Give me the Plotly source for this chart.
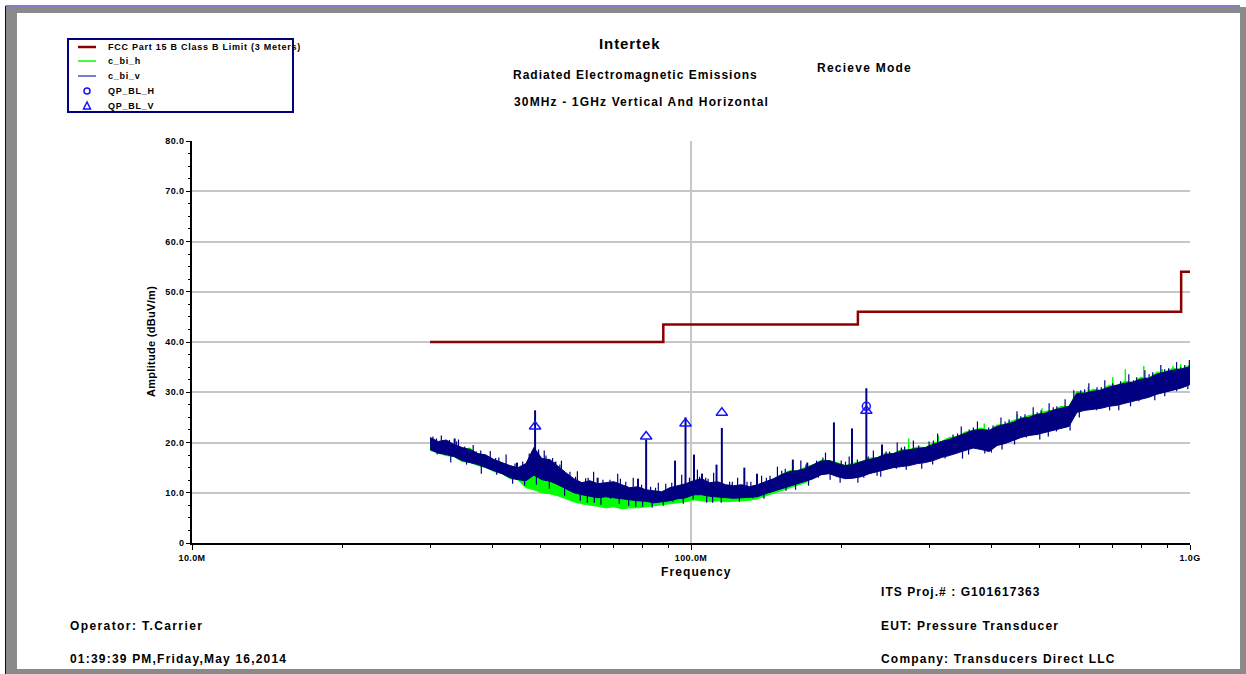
import plotly.graph_objects as go

# ---------------- measurement data ----------------
# sweep bins (MHz)
FREQ_MHZ = [30.0, 31.13, 32.30, 33.51, 34.77, 36.07, 37.43, 38.83, 40.29, 41.80,
            43.37, 45.00, 46.69, 48.44, 50.26, 52.15, 54.11, 56.14, 58.24, 60.43,
            62.70, 65.05, 67.49, 70.03, 72.66, 75.38, 78.21, 81.15, 84.20, 87.36,
            90.64, 94.04, 97.57, 101.2, 105.0, 109.0, 113.1, 117.3, 121.7, 126.3,
            131.0, 135.9, 141.0, 146.3, 151.8, 157.5, 163.4, 169.6, 175.9, 182.5,
            189.4, 196.5, 203.9, 211.5, 219.5, 227.7, 236.3, 245.1, 254.3, 263.9,
            273.8, 284.1, 294.7, 305.8, 317.3, 329.2, 341.5, 354.3, 367.6, 381.4,
            395.8, 410.6, 426.0, 442.0, 458.6, 475.8, 493.7, 512.2, 531.4, 551.4,
            572.1, 593.5, 615.8, 638.9, 662.9, 687.8, 713.6, 740.4, 768.2, 797.0,
            826.9, 858.0, 890.2, 923.6, 958.3, 994.2, 1000.0]

# vertical antenna (c_bi_v): max / min per bin, dBuV/m
V_HI = [21.0, 20.2, 20.5, 19.6, 19.0, 18.6, 17.8, 17.5, 16.6, 16.0,
        15.4, 15.0, 15.8, 19.0, 16.8, 16.6, 15.2, 14.0, 12.8, 12.0,
        12.4, 11.8, 12.0, 12.2, 11.6, 11.0, 11.2, 10.6, 10.4, 10.2,
        11.0, 11.4, 11.8, 12.4, 12.8, 12.0, 12.2, 11.6, 11.4, 11.6,
        11.2, 11.6, 12.2, 12.8, 13.6, 14.2, 14.4, 14.8, 15.6, 16.3,
        16.4, 15.8, 15.4, 15.6, 16.2, 16.6, 17.0, 17.6, 17.8, 18.3,
        18.6, 18.8, 19.0, 19.6, 20.2, 20.6, 21.2, 21.8, 22.4, 22.6,
        22.4, 23.2, 23.6, 24.0, 24.8, 25.0, 25.6, 25.8, 26.4, 26.8,
        27.2, 29.8, 29.8, 30.2, 30.4, 31.0, 31.4, 31.8, 32.0, 32.6,
        32.8, 33.6, 34.0, 34.4, 34.6, 35.0, 35.4]
V_LO = [18.6, 17.9, 17.6, 17.2, 16.4, 16.0, 15.6, 15.0, 14.4, 13.8,
        13.0, 12.6, 12.4, 13.5, 12.6, 12.3, 11.6, 10.8, 10.0, 9.6,
        9.3, 9.0, 9.2, 9.0, 8.7, 8.5, 8.4, 8.3, 8.0, 8.2,
        8.4, 8.8, 9.0, 9.6, 9.6, 9.3, 9.2, 9.0, 8.9, 9.0,
        9.1, 9.2, 9.8, 10.3, 10.8, 11.3, 11.8, 12.2, 12.8, 13.6,
        13.8, 13.2, 12.8, 12.9, 13.2, 13.8, 14.2, 14.6, 15.0, 15.2,
        15.4, 15.8, 16.0, 16.4, 17.0, 17.4, 17.9, 18.4, 18.9, 18.6,
        18.2, 19.4, 19.8, 20.4, 21.0, 21.4, 21.6, 22.0, 22.4, 22.8,
        23.2, 26.0, 26.4, 26.6, 26.8, 27.2, 27.4, 27.8, 28.2, 28.6,
        29.0, 29.6, 30.0, 30.4, 30.8, 31.4, 31.6]

# horizontal antenna (c_bi_h): max / min per bin, dBuV/m
H_HI = [20.4, 19.8, 20.0, 19.2, 18.6, 18.9, 17.6, 17.2, 16.4, 15.6,
        15.0, 14.6, 14.2, 13.4, 12.8, 13.0, 12.4, 11.6, 11.2, 10.6,
        10.8, 10.2, 10.4, 10.0, 9.8, 10.0, 9.6, 9.8, 9.4, 9.8,
        10.0, 10.2, 10.6, 11.0, 10.8, 10.6, 10.8, 10.4, 10.6, 10.4,
        10.8, 11.2, 12.0, 12.6, 13.6, 14.4, 14.4, 15.1, 15.6, 16.5,
        16.4, 16.0, 15.4, 15.9, 16.2, 16.9, 17.0, 17.9, 17.8, 18.6,
        18.6, 19.1, 19.0, 19.9, 20.2, 21.0, 21.2, 22.1, 22.4, 22.9,
        22.4, 23.5, 23.6, 24.4, 24.8, 25.4, 25.6, 26.2, 26.4, 27.2,
        27.2, 30.2, 29.8, 30.6, 30.4, 31.4, 31.4, 32.2, 32.0, 33.0,
        32.8, 34.0, 34.0, 34.8, 34.6, 35.4, 35.4]
H_LO = [18.4, 17.9, 17.4, 17.2, 16.2, 16.0, 15.4, 15.0, 14.2, 13.8,
        12.8, 12.6, 11.0, 10.6, 10.0, 9.8, 9.4, 8.8, 8.2, 7.8,
        7.6, 7.3, 7.0, 7.2, 6.8, 7.0, 7.0, 7.2, 7.4, 7.6,
        7.8, 7.9, 8.2, 8.6, 8.4, 8.2, 8.4, 8.2, 8.3, 8.4,
        8.5, 8.8, 9.4, 9.9, 10.4, 11.0, 11.5, 12.0, 13.0, 13.8,
        14.0, 13.4, 13.0, 13.1, 13.4, 14.0, 14.4, 14.8, 15.2, 15.4,
        15.6, 16.0, 16.2, 16.6, 17.2, 17.6, 18.1, 18.6, 19.1, 18.8,
        18.4, 19.6, 20.0, 20.6, 21.2, 21.6, 21.8, 22.2, 22.6, 23.0,
        23.4, 26.2, 26.6, 26.8, 27.0, 27.4, 27.6, 28.0, 28.4, 28.8,
        29.2, 29.8, 30.2, 30.6, 31.0, 31.6, 31.8]

# narrowband emissions (single-bin peaks), vertical antenna
SPIKE_V_MHZ = [33.6, 38.6, 44.8, 48.7, 51.6, 53.5, 65.0, 78.3, 81.3, 92.9, 97.5, 101.4,
               105.2, 112.5, 115.3, 127.9, 135.6, 160.0, 171.0, 193.4, 210.2, 224.6, 241.4]
SPIKE_V_TOP = [20.8, 17.6, 16.0, 26.4, 16.6, 16.2, 13.0, 12.8, 20.6, 16.4, 25.0, 17.6,
               13.8, 15.6, 22.9, 15.0, 13.8, 16.6, 16.0, 24.0, 22.8, 30.8, 19.6]
SPIKE_V_BASE = [18.5, 16.2, 13.8, 16.0, 14.4, 13.6, 10.4, 9.8, 9.5, 9.8, 10.4, 11.0,
                11.2, 10.7, 10.4, 10.3, 10.4, 13.0, 13.4, 15.0, 14.2, 15.3, 16.3]

# single-bin noise excursions beyond the min/max band, vertical antenna
NOISE_V_MHZ = [30.4, 31.6, 32.8, 34.2, 35.2, 36.6, 37.9, 39.6, 41.2, 42.6, 46.0, 47.4,
               49.5, 50.8, 52.8, 55.0, 57.2, 59.2, 61.5, 63.8, 68.8, 71.3, 74.0, 76.6,
               83.0, 86.0, 89.0, 95.8, 99.3, 103.0, 107.0, 111.0, 119.5, 124.0, 129.5, 138.5,
               144.0, 149.0, 154.5, 166.0, 178.5, 186.0, 200.0, 207.5, 215.5, 232.0, 250.0, 259.0,
               268.0, 279.0, 300.0, 312.0, 335.0, 348.0, 361.0, 375.0, 403.0, 418.0, 434.0, 450.0,
               467.0, 485.0, 503.0, 522.0, 541.0, 562.0, 604.0, 627.0, 651.0, 675.0, 726.0, 754.0,
               782.0, 812.0, 842.0, 874.0, 906.0, 940.0, 976.0, 997.0,
               31.0, 33.0, 35.5, 38.0, 40.8, 43.9, 57.0, 64.0, 69.0, 80.0, 92.0, 110.5,
               133.0, 162.0, 180.0, 199.0, 222.0, 240.0, 258.0, 290.0, 323.0, 350.0, 388.0, 420.0,
               470.0, 500.0, 540.0, 600.0, 650.0, 720.0, 790.0, 850.0, 940.0,
               30.9, 33.9, 37.1, 40.6, 44.4, 48.0, 51.2, 54.6, 58.7, 62.2, 66.6, 72.2,
               79.6, 84.9, 91.5, 104.0, 108.2, 121.0, 131.8, 141.6, 152.0, 170.0, 183.8, 204.0,
               226.5, 246.0, 264.0, 286.0, 306.0, 342.0, 368.0, 395.0, 426.0, 458.0, 494.0, 532.0,
               585.0, 615.0, 664.0, 700.0, 770.0, 828.0, 890.0, 958.0,
               46.4, 49.0, 52.0, 55.8, 60.0, 62.0, 66.0, 71.8, 75.0, 77.5, 83.6, 88.0,
               96.5, 101.0, 107.5, 115.0, 125.0, 140.0, 155.0, 172.0, 190.0, 216.0, 236.0, 270.0,
               305.0, 360.0, 400.0, 445.0, 520.0, 575.0, 690.0, 760.0, 890.0, 990.0]
NOISE_V_FROM = [19.5, 19.0, 18.6, 18.0, 17.6, 17.0, 16.5, 15.8, 15.0, 14.4, 14.0, 14.6,
                15.5, 14.8, 14.2, 13.0, 12.0, 11.0, 10.8, 10.5, 10.5, 10.4, 10.0, 9.8,
                9.4, 9.2, 9.5, 10.2, 10.4, 11.0, 10.8, 10.6, 10.2, 10.2, 10.2, 10.6,
                11.4, 12.0, 12.6, 13.4, 14.4, 15.0, 14.6, 14.2, 14.6, 15.4, 16.4, 16.8,
                17.0, 17.4, 18.0, 18.6, 19.4, 20.0, 20.6, 21.0, 21.0, 21.6, 22.0, 22.6,
                23.2, 23.6, 24.0, 24.4, 24.8, 25.2, 28.0, 28.4, 28.8, 29.0, 29.8, 30.2,
                30.6, 31.0, 31.4, 32.0, 32.4, 32.8, 33.2, 33.6,
                19.0, 18.2, 17.0, 16.0, 15.0, 14.0, 12.0, 10.6, 10.4, 9.6, 9.8, 10.6,
                10.4, 12.6, 14.2, 14.2, 14.6, 15.4, 16.4, 17.2, 18.4, 19.4, 20.0, 21.0,
                22.8, 23.2, 24.0, 27.4, 28.0, 28.8, 29.8, 30.8, 31.8,
                19.0, 17.8, 16.4, 14.8, 13.4, 15.0, 14.6, 12.8, 11.0, 10.6, 10.4, 10.0,
                9.6, 9.2, 9.6, 10.8, 10.6, 10.2, 10.0, 10.8, 12.2, 13.6, 14.6, 14.4,
                15.4, 16.0, 16.8, 17.6, 18.4, 19.8, 20.6, 20.8, 21.8, 22.8, 23.6, 24.6,
                27.4, 28.2, 28.8, 29.4, 30.4, 31.2, 32.2, 33.0,
                13.0, 13.6, 13.0, 11.6, 10.4, 10.0, 9.8, 9.6, 9.4, 9.2, 9.0, 9.0,
                9.6, 10.0, 10.0, 9.8, 9.8, 10.4, 12.0, 13.2, 14.4, 13.8, 15.0, 16.0,
                17.0, 19.0, 19.6, 21.2, 22.8, 24.0, 28.0, 28.8, 30.8, 32.0]
NOISE_V_TO = [21.2, 21.4, 20.5, 20.6, 19.2, 19.5, 18.4, 18.3, 17.0, 17.6, 16.2, 17.8,
              18.6, 18.4, 16.9, 16.4, 14.2, 14.3, 12.9, 14.2, 12.6, 13.8, 12.2, 13.0,
              11.2, 12.0, 11.8, 13.6, 13.0, 14.6, 13.0, 14.0, 12.2, 13.0, 12.2, 13.4,
              13.4, 15.2, 14.8, 16.4, 16.4, 18.0, 16.4, 17.2, 16.6, 18.4, 18.2, 20.0,
              19.2, 20.4, 20.2, 21.8, 21.6, 23.2, 22.6, 24.2, 23.4, 25.0, 24.6, 26.2,
              25.6, 27.0, 26.4, 27.8, 27.2, 28.6, 30.4, 31.8, 31.0, 32.4, 32.2, 33.6,
              33.0, 34.4, 34.0, 35.4, 34.8, 36.0, 35.4, 36.4,
              17.6, 16.0, 15.6, 13.8, 13.6, 11.8, 10.4, 8.0, 8.8, 7.2, 8.2, 8.0,
              8.9, 10.6, 13.0, 12.0, 13.0, 13.2, 14.8, 14.8, 16.8, 16.8, 17.8, 18.6,
              21.0, 20.6, 22.2, 25.0, 26.4, 26.4, 28.2, 28.4, 30.2,
              20.8, 20.2, 18.2, 16.9, 15.8, 18.2, 17.4, 15.6, 13.2, 13.0, 12.6, 12.8,
              11.6, 11.0, 12.0, 13.2, 12.8, 12.2, 12.2, 13.0, 14.4, 15.6, 17.0, 16.2,
              17.2, 18.2, 19.0, 19.4, 20.4, 21.8, 23.0, 23.0, 24.2, 25.2, 26.0, 27.0,
              30.4, 30.6, 31.0, 31.8, 32.4, 33.6, 34.6, 35.0,
              11.4, 11.6, 10.8, 9.4, 8.4, 8.0, 7.6, 7.8, 7.4, 7.2, 7.0, 7.4,
              7.8, 8.6, 8.0, 8.0, 8.2, 8.8, 10.4, 11.4, 12.6, 12.0, 13.4, 14.6,
              15.6, 17.6, 18.0, 19.6, 21.2, 22.4, 26.4, 27.2, 29.2, 30.6]

# narrowband emissions, horizontal antenna
SPIKE_H_MHZ = [35.7, 40.2, 273.0, 313.0, 387.0, 451.0, 505.0, 625.0, 700.0, 742.0,
               808.0, 880.0, 924.0, 958.0]
SPIKE_H_TOP = [18.9, 16.0, 20.8, 21.4, 23.8, 25.6, 26.8, 31.0, 33.0, 34.6,
               35.2, 34.6, 35.2, 35.6]
SPIKE_H_BASE = [17.0, 14.8, 17.0, 18.5, 20.5, 22.0, 23.5, 28.0, 29.2, 30.0,
                30.8, 31.5, 32.0, 32.5]

# FCC Part 15 B Class B limit at 3 m
LIMIT_MHZ = [30.0, 88.0, 216.0, 960.0, 1000.0]
LIMIT_DB = [40.0, 43.5, 46.0, 54.0, 54.0]

# quasi-peak results
QP_H_MHZ = [224.6]
QP_H_DB = [27.2]
QP_V_MHZ = [48.7, 81.3, 97.5, 115.3, 224.6]
QP_V_DB = [23.2, 21.2, 23.8, 25.9, 26.3]

# axis ticks
X_MAJOR = [10, 100, 1000]
X_MAJOR_TEXT = ["10.0M", "100.0M", "1.0G"]
X_MINOR = [20, 30, 40, 50, 60, 70, 80, 90, 200, 300, 400, 500, 600, 700, 800, 900]
Y_TICKS = [0, 10, 20, 30, 40, 50, 60, 70, 80]
Y_TICK_TEXT = ["0", "10.0", "20.0", "30.0", "40.0", "50.0", "60.0", "70.0", "80.0"]

# ---------------- styling ----------------
NAVY = "#000080"
GREEN = "#00ff00"
LIMIT_RED = "#8b0000"
QP_BLUE = "#1414ff"
GRID = "#c6c6c6"
FRAME_GRAY = "#8a8a8a"
FONT = "Liberation Sans, Arial, sans-serif"

W, H = 1246, 674
L, T, PW, PH = 192, 141, 998, 402


def px(xp):
    return (xp - L) / PW


def py(yp):
    return (T + PH - yp) / PH


def segments(freqs, starts, ends):
    xs, ys = [], []
    for f, a, b in zip(freqs, starts, ends):
        xs += [f, f, None]
        ys += [a, b, None]
    return xs, ys


def spaced(text, gap):
    return f'<span style="letter-spacing:{gap}px">{text}</span>'


fig = go.Figure()

# horizontal sweep (drawn underneath)
fig.add_trace(go.Scatter(x=FREQ_MHZ, y=H_HI, mode="lines", line=dict(color=GREEN, width=1),
                         showlegend=False, hoverinfo="skip"))
fig.add_trace(go.Scatter(x=FREQ_MHZ, y=H_LO, mode="lines", line=dict(color=GREEN, width=1),
                         fill="tonexty", fillcolor=GREEN, showlegend=False, hoverinfo="skip"))
sx, sy = segments(SPIKE_H_MHZ, SPIKE_H_BASE, SPIKE_H_TOP)
fig.add_trace(go.Scatter(x=sx, y=sy, mode="lines", line=dict(color=GREEN, width=1.5),
                         showlegend=False, hoverinfo="skip"))

# vertical sweep
fig.add_trace(go.Scatter(x=FREQ_MHZ, y=V_HI, mode="lines", line=dict(color=NAVY, width=1),
                         showlegend=False, hoverinfo="skip"))
fig.add_trace(go.Scatter(x=FREQ_MHZ, y=V_LO, mode="lines", line=dict(color=NAVY, width=1),
                         fill="tonexty", fillcolor=NAVY, showlegend=False, hoverinfo="skip"))
sx, sy = segments(NOISE_V_MHZ, NOISE_V_FROM, NOISE_V_TO)
fig.add_trace(go.Scatter(x=sx, y=sy, mode="lines", line=dict(color=NAVY, width=1.2),
                         showlegend=False, hoverinfo="skip"))
sx, sy = segments(SPIKE_V_MHZ, SPIKE_V_BASE, SPIKE_V_TOP)
fig.add_trace(go.Scatter(x=sx, y=sy, mode="lines", line=dict(color=NAVY, width=2),
                         showlegend=False, hoverinfo="skip"))

# limit line
fig.add_trace(go.Scatter(x=LIMIT_MHZ, y=LIMIT_DB, mode="lines", line_shape="hv",
                         line=dict(color=LIMIT_RED, width=2.5), showlegend=False))

# quasi-peak markers
fig.add_trace(go.Scatter(x=QP_H_MHZ, y=QP_H_DB, mode="markers", showlegend=False,
                         marker=dict(symbol="circle-open", size=8, color=QP_BLUE,
                                     line=dict(width=1.5, color=QP_BLUE))))
fig.add_trace(go.Scatter(x=QP_V_MHZ, y=QP_V_DB, mode="markers", showlegend=False,
                         marker=dict(symbol="triangle-up-open", size=10, color=QP_BLUE,
                                     line=dict(width=1.5, color=QP_BLUE))))

tickfont = dict(family=FONT, size=9, color="black", weight="bold")

fig.update_layout(
    width=W, height=H, autosize=False,
    margin=dict(l=L, r=W - L - PW, t=T, b=H - T - PH, pad=0),
    paper_bgcolor="white", plot_bgcolor="white",
    showlegend=False,
    font=dict(family=FONT, color="black"),
    xaxis=dict(type="log", range=[1, 3], tickvals=X_MAJOR,
               ticktext=[spaced(t, 0.4) for t in X_MAJOR_TEXT],
               ticks="outside", ticklen=5, tickwidth=1, tickcolor="black",
               showline=True, linecolor="black", linewidth=1.5,
               showgrid=True, gridcolor=GRID, gridwidth=1.5, zeroline=False,
               tickfont=tickfont,
               minor=dict(tickvals=X_MINOR, ticks="outside", ticklen=3, tickwidth=1,
                          tickcolor="black", showgrid=False)),
    xaxis2=dict(type="log", range=[1, 3], overlaying="x", anchor="y", side="bottom",
                tickvals=X_MAJOR, ticks="inside", ticklen=6, tickwidth=1, tickcolor="black",
                showticklabels=False, showgrid=False, showline=False, zeroline=False,
                minor=dict(tickvals=X_MINOR, ticks="inside", ticklen=3, tickwidth=1,
                           tickcolor="black", showgrid=False)),
    yaxis=dict(range=[0, 80], tickvals=Y_TICKS,
               ticktext=[spaced(t, 0.4) for t in Y_TICK_TEXT],
               ticks="outside", ticklen=4, tickwidth=1, tickcolor="black",
               showline=True, linecolor="black", linewidth=1.5,
               showgrid=True, gridcolor=GRID, gridwidth=1.5, zeroline=False,
               tickfont=tickfont,
               minor=dict(dtick=2.5, ticks="outside", ticklen=2, tickwidth=1,
                          tickcolor="black", showgrid=False)),
    yaxis2=dict(range=[0, 80], overlaying="y", anchor="x", side="left",
                tickvals=Y_TICKS, ticks="inside", ticklen=8, tickwidth=1, tickcolor="black",
                showticklabels=False, showgrid=False, showline=False, zeroline=False,
                minor=dict(dtick=2.5, ticks="inside", ticklen=5, tickwidth=1,
                           tickcolor="black", showgrid=False)),
)

# ---------------- page text ----------------
def note(text, xp, yp, size=12, gap=1.0, anchor="center", angle=0):
    fig.add_annotation(text=spaced(text, gap), x=px(xp), y=py(yp), xref="paper", yref="paper",
                       xanchor=anchor, yanchor="middle", showarrow=False, textangle=angle,
                       font=dict(family=FONT, size=size, color="black", weight="bold"))


note("Intertek", 629, 44, size=15, gap=0.9)
note("Radiated Electromagnetic Emissions", 635, 75, size=12, gap=1.0)
note("30MHz - 1GHz Vertical And Horizontal", 641, 102, size=12, gap=1.15)
note("Recieve Mode", 864, 68, size=12, gap=1.25)
note("Frequency", 696, 572, size=12, gap=1.1)
note("Amplitude (dBuV/m)", 151, 342, size=11, gap=0.3, angle=-90)
note("ITS Proj.# : G101617363", 879, 592, size=12, gap=1.05, anchor="left")
note("Operator: T.Carrier", 68, 626, size=12, gap=1.4, anchor="left")
note("EUT: Pressure Transducer", 879, 626, size=12, gap=1.2, anchor="left")
note("01:39:39 PM,Friday,May 16,2014", 68, 659, size=12, gap=1.2, anchor="left")
note("Company: Transducers Direct LLC", 879, 659, size=12, gap=1.2, anchor="left")

# ---------------- legend box ----------------
LEGEND_ROWS = [
    ("FCC Part 15 B Class B Limit (3 Meters)", 47),
    ("c_bi_h", 61),
    ("c_bi_v", 76),
    ("QP_BL_H", 91),
    ("QP_BL_V", 106),
]
shapes = []
shapes.append(dict(type="rect", xref="paper", yref="paper", x0=px(68), x1=px(293),
                   y0=py(112), y1=py(39), line=dict(color=NAVY, width=2),
                   fillcolor="rgba(0,0,0,0)", layer="above"))
shapes.append(dict(type="line", xref="paper", yref="paper", x0=px(78), x1=px(96),
                   y0=py(47), y1=py(47), line=dict(color=LIMIT_RED, width=2.5)))
shapes.append(dict(type="line", xref="paper", yref="paper", x0=px(78), x1=px(96),
                   y0=py(61), y1=py(61), line=dict(color=GREEN, width=1.5)))
shapes.append(dict(type="line", xref="paper", yref="paper", x0=px(78), x1=px(96),
                   y0=py(76), y1=py(76), line=dict(color="#4a56b8", width=1.5)))
shapes.append(dict(type="circle", xref="paper", yref="paper", x0=px(84), x1=px(90),
                   y0=py(94), y1=py(88), line=dict(color=QP_BLUE, width=1.5)))
shapes.append(dict(type="path", xref="paper", yref="paper",
                   path=f"M {px(87)},{py(102)} L {px(83.5)},{py(109)} L {px(90.5)},{py(109)} Z",
                   line=dict(color=QP_BLUE, width=1.5)))
for label, yrow in LEGEND_ROWS:
    fig.add_annotation(text=spaced(label, 0.75), x=px(106), y=py(yrow), xref="paper", yref="paper",
                       xanchor="left", yanchor="middle", showarrow=False,
                       font=dict(family=FONT, size=9, color="black", weight="bold"))

# ---------------- window frame ----------------
shapes += [
    dict(type="rect", xref="paper", yref="paper", x0=px(6), x1=px(17), y0=py(674), y1=py(7),
         fillcolor=FRAME_GRAY, line=dict(width=0), layer="below"),
    dict(type="rect", xref="paper", yref="paper", x0=px(6), x1=px(1246), y0=py(13), y1=py(7),
         fillcolor=FRAME_GRAY, line=dict(width=0), layer="below"),
    dict(type="rect", xref="paper", yref="paper", x0=px(1240), x1=px(1246), y0=py(674), y1=py(7),
         fillcolor=FRAME_GRAY, line=dict(width=0), layer="below"),
    dict(type="rect", xref="paper", yref="paper", x0=px(6), x1=px(1246), y0=py(674), y1=py(669),
         fillcolor=FRAME_GRAY, line=dict(width=0), layer="below"),
    dict(type="line", xref="paper", yref="paper", x0=px(5.5), x1=px(5.5), y0=py(674), y1=py(6),
         line=dict(color=NAVY, width=1)),
    dict(type="line", xref="paper", yref="paper", x0=px(5.5), x1=px(1240), y0=py(6), y1=py(6),
         line=dict(color=NAVY, width=1)),
]
fig.update_layout(shapes=shapes)

fig.write_html("out.html", post_script="document.body.style.margin='0';")
